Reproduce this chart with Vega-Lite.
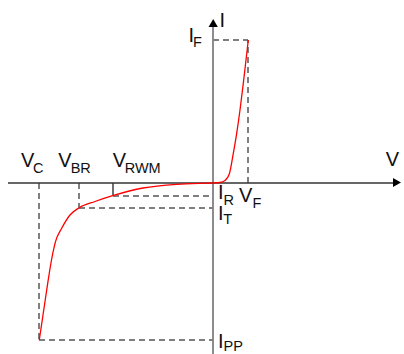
{
  "$schema": "https://vega.github.io/schema/vega-lite/v6.json",
  "width": 404,
  "height": 354,
  "padding": 0,
  "autosize": {"type": "none"},
  "background": "white",
  "config": {"view": {"stroke": null}},
  "datasets": {
    "curve": [
      {"v": -173.7, "i": -157, "o": 1},
      {"v": -166.3, "i": -107, "o": 2},
      {"v": -161.5, "i": -77, "o": 3},
      {"v": -157.5, "i": -58.7, "o": 4},
      {"v": -151.3, "i": -45.3, "o": 5},
      {"v": -143, "i": -32, "o": 6},
      {"v": -133.7, "i": -24.7, "o": 7},
      {"v": -118, "i": -18.5, "o": 8},
      {"v": -100.3, "i": -12.7, "o": 9},
      {"v": -70, "i": -5, "o": 10},
      {"v": -36.3, "i": -1.3, "o": 11},
      {"v": -13, "i": -0.3, "o": 12},
      {"v": 0, "i": 0, "o": 13},
      {"v": 7, "i": 0.5, "o": 14},
      {"v": 12, "i": 2.5, "o": 15},
      {"v": 16.3, "i": 9, "o": 16},
      {"v": 20.3, "i": 29.7, "o": 17},
      {"v": 23.7, "i": 49.7, "o": 18},
      {"v": 27, "i": 73, "o": 19},
      {"v": 30.3, "i": 99.7, "o": 20},
      {"v": 33, "i": 123, "o": 21},
      {"v": 35.3, "i": 143, "o": 22}
    ],
    "dashed": [
      {"v1": -174, "i1": 0, "v2": -174, "i2": -157},
      {"v1": -174, "i1": -157, "v2": 0, "i2": -157},
      {"v1": -134, "i1": 0, "v2": -134, "i2": -25},
      {"v1": -134, "i1": -25, "v2": 0, "i2": -25},
      {"v1": -100, "i1": -13, "v2": 0, "i2": -13},
      {"v1": 35, "i1": 0, "v2": 35, "i2": 143},
      {"v1": 0, "i1": 143, "v2": 35, "i2": 143}
    ],
    "solid": [
      {"v1": -100, "i1": 0, "v2": -100, "i2": -13}
    ],
    "haxis": [{"v1": -205, "i1": 0, "v2": 180, "i2": 0}],
    "vaxis": [{"v1": 0, "i1": 157, "v2": 0, "i2": -171}],
    "arrows": [
      {"v": 184, "i": 0.5, "dir": "right"},
      {"v": 0.2, "i": 160, "dir": "up"}
    ],
    "labels": [
      {"v": -192, "i": 16.3, "t": "V", "role": "main"},
      {"v": -180, "i": 9.7, "t": "C", "role": "sub"},
      {"v": -154.7, "i": 16.3, "t": "V", "role": "main"},
      {"v": -142.3, "i": 9.7, "t": "BR", "role": "sub"},
      {"v": -100.3, "i": 16.3, "t": "V", "role": "main"},
      {"v": -88.3, "i": 9.7, "t": "RWM", "role": "sub"},
      {"v": 172.7, "i": 17, "t": "V", "role": "main"},
      {"v": 6.5, "i": 156.3, "t": "I", "role": "main"},
      {"v": -24.5, "i": 141.3, "t": "I", "role": "main"},
      {"v": -20, "i": 136.3, "t": "F", "role": "sub"},
      {"v": 5, "i": -15.7, "t": "I", "role": "main"},
      {"v": 10.5, "i": -21.7, "t": "R", "role": "sub"},
      {"v": 26, "i": -19, "t": "V", "role": "main"},
      {"v": 39.5, "i": -25, "t": "F", "role": "sub"},
      {"v": 5, "i": -36.7, "t": "I", "role": "main"},
      {"v": 10.3, "i": -40.7, "t": "T", "role": "sub"},
      {"v": 5, "i": -165.3, "t": "I", "role": "main"},
      {"v": 10.5, "i": -167.7, "t": "PP", "role": "sub"}
    ]
  },
  "layer": [
    {
      "data": {"name": "dashed"},
      "mark": {"type": "rule", "color": "#555555", "strokeWidth": 1.5, "strokeDash": [6, 4]},
      "encoding": {
        "x": {"field": "v1", "type": "quantitative", "scale": {"domain": [-213, 191], "nice": false, "zero": false}, "axis": null},
        "x2": {"field": "v2"},
        "y": {"field": "i1", "type": "quantitative", "scale": {"domain": [-171, 183], "nice": false, "zero": false}, "axis": null},
        "y2": {"field": "i2"}
      }
    },
    {
      "data": {"name": "solid"},
      "mark": {"type": "rule", "color": "#222222", "strokeWidth": 1.3},
      "encoding": {
        "x": {"field": "v1", "type": "quantitative"},
        "x2": {"field": "v2"},
        "y": {"field": "i1", "type": "quantitative"},
        "y2": {"field": "i2"}
      }
    },
    {
      "data": {"name": "vaxis"},
      "mark": {"type": "rule", "color": "#808080", "strokeWidth": 1.8},
      "encoding": {
        "x": {"field": "v1", "type": "quantitative"},
        "x2": {"field": "v2"},
        "y": {"field": "i1", "type": "quantitative"},
        "y2": {"field": "i2"}
      }
    },
    {
      "data": {"name": "haxis"},
      "mark": {"type": "rule", "color": "#333333", "strokeWidth": 1.5},
      "encoding": {
        "x": {"field": "v1", "type": "quantitative"},
        "x2": {"field": "v2"},
        "y": {"field": "i1", "type": "quantitative"},
        "y2": {"field": "i2"}
      }
    },
    {
      "data": {"name": "curve"},
      "mark": {"type": "line", "color": "#ff0000", "strokeWidth": 1.3, "interpolate": "monotone"},
      "encoding": {
        "x": {"field": "v", "type": "quantitative"},
        "y": {"field": "i", "type": "quantitative"},
        "order": {"field": "o"}
      }
    },
    {
      "data": {"name": "arrows"},
      "mark": {"type": "point", "filled": true, "color": "#000000", "size": 85, "opacity": 1},
      "encoding": {
        "x": {"field": "v", "type": "quantitative"},
        "y": {"field": "i", "type": "quantitative"},
        "shape": {"field": "dir", "type": "nominal", "scale": {"domain": ["right", "up"], "range": ["triangle-right", "triangle-up"]}, "legend": null}
      }
    },
    {
      "data": {"name": "labels"},
      "mark": {"type": "text", "align": "left", "baseline": "alphabetic", "font": "Liberation Sans", "color": "#111111"},
      "encoding": {
        "x": {"field": "v", "type": "quantitative"},
        "y": {"field": "i", "type": "quantitative"},
        "text": {"field": "t"},
        "size": {"field": "role", "type": "nominal", "scale": {"domain": ["main", "sub"], "range": [20, 14.5]}, "legend": null}
      }
    }
  ]
}
